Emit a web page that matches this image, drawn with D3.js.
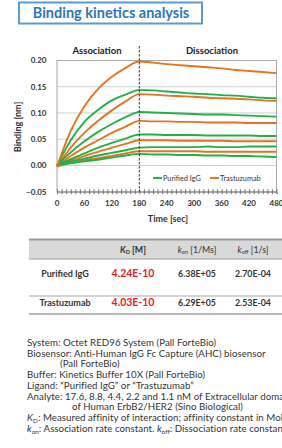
<!doctype html>
<html>
<head>
<meta charset="utf-8" />
<title>Binding kinetics analysis</title>
<script src="https://cdnjs.cloudflare.com/ajax/libs/d3/7.8.5/d3.min.js"></script>
<style>
  body { margin:0; background:#fff; font-family:Lato, "Open Sans", sans-serif; }
  svg { display:block; }
</style>
</head>
<body>
<div id="chart"></div>
<script>
/*time points (sec) the curves were read at*/
var times = [0, 30, 60, 90, 120, 150, 180, 210, 240, 270, 300, 330, 360, 390, 420, 450, 480];

/*Purified IgG, 17.6 / 8.8 / 4.4 / 2.2 / 1.1 nM analyte*/
var igg176 = [0, 0.048, 0.083, 0.106, 0.124, 0.135, 0.144, 0.143, 0.141, 0.139, 0.137, 0.136, 0.134, 0.133, 0.131, 0.129, 0.128];
var igg88  = [0, 0.025, 0.046, 0.064, 0.079, 0.092, 0.102, 0.101, 0.100, 0.099, 0.098, 0.097, 0.097, 0.096, 0.095, 0.094, 0.093];
var igg44  = [0, 0.012, 0.023, 0.034, 0.043, 0.051, 0.059, 0.059, 0.058, 0.058, 0.058, 0.057, 0.057, 0.057, 0.057, 0.056, 0.056];
var igg22  = [0, 0.007, 0.013, 0.019, 0.024, 0.029, 0.034, 0.035, 0.035, 0.035, 0.035, 0.036, 0.035, 0.035, 0.036, 0.036, 0.036];
var igg11  = [0, 0.004, 0.008, 0.011, 0.015, 0.019, 0.022, 0.021, 0.021, 0.020, 0.020, 0.019, 0.019, 0.018, 0.018, 0.017, 0.016];

/*Trastuzumab, same concentrations*/
var tra176 = [-0.002, 0.066, 0.113, 0.146, 0.169, 0.186, 0.198, 0.196, 0.193, 0.191, 0.189, 0.187, 0.185, 0.182, 0.180, 0.178, 0.176];
var tra88  = [-0.002, 0.034, 0.062, 0.085, 0.105, 0.122, 0.136, 0.135, 0.133, 0.132, 0.131, 0.129, 0.128, 0.127, 0.126, 0.124, 0.123];
var tra44  = [-0.002, 0.018, 0.034, 0.048, 0.062, 0.074, 0.085, 0.084, 0.084, 0.083, 0.083, 0.082, 0.082, 0.082, 0.081, 0.081, 0.081];
var tra22  = [-0.002, 0.009, 0.018, 0.026, 0.034, 0.041, 0.048, 0.048, 0.048, 0.047, 0.047, 0.047, 0.047, 0.046, 0.046, 0.046, 0.046];
var tra11  = [-0.002, 0.005, 0.010, 0.014, 0.018, 0.023, 0.027, 0.027, 0.027, 0.027, 0.027, 0.026, 0.026, 0.026, 0.026, 0.026, 0.026];

var xTicks = [0, 60, 120, 180, 240, 300, 360, 420, 480];
var yTicks = [-0.05, 0.00, 0.05, 0.10, 0.15, 0.20];
var seriesNames = ["Purified IgG", "Trastuzumab"];

/*kinetics table*/
var rowNames = ["Purified IgG", "Trastuzumab"];
var kdValues = ["4.24E-10", "4.03E-10"];
var konValues = ["6.38E+05", "6.29E+05"];
var koffValues = ["2.70E-04", "2.53E-04"];

var green = "#22b04b";
var orange = "#e8731f";

var svg = d3.select("#chart").append("svg")
  .attr("width", 282).attr("height", 448);

/*title box*/
svg.append("rect").attr("x", 19).attr("y", 2.5).attr("width", 183).attr("height", 21)
  .attr("fill", "#fff").attr("stroke", "#5b9bd5").attr("stroke-width", 2);
svg.append("text").attr("x", 111).attr("y", 18).attr("text-anchor", "middle")
  .attr("font-size", 14.5).attr("font-weight", "bold").attr("fill", "#2e75b6")
  .text("Binding kinetics analysis");

/*plot area*/
var x = d3.scaleLinear().domain([0, 480]).range([57, 276.5]);
var y = d3.scaleLinear().domain([-0.05, 0.20]).range([191.7, 60.5]);

var grid = svg.append("g");
grid.selectAll("line").data(yTicks.filter(function(d) { return d > -0.05 && d < 0.2; }))
  .enter().append("line")
  .attr("x1", x(0)).attr("x2", x(480))
  .attr("y1", function(d) { return y(d); }).attr("y2", function(d) { return y(d); })
  .attr("stroke", "#cfcfcf").attr("stroke-width", 1);

svg.append("rect").attr("x", x(0)).attr("y", y(0.20))
  .attr("width", x(480) - x(0)).attr("height", y(-0.05) - y(0.20))
  .attr("fill", "none").attr("stroke", "#a8a8a8").attr("stroke-width", 1);

/*x axis with small crossing ticks every 10 sec*/
var xAxis = svg.append("g").attr("transform", "translate(0," + y(-0.05) + ")")
  .call(d3.axisBottom(x).tickValues(d3.range(0, 481, 10)).tickSize(2.5).tickFormat(""));
xAxis.select(".domain").attr("stroke", "#888");
xAxis.selectAll(".tick line").attr("stroke", "#777").attr("y1", -2.5);

svg.append("g").selectAll("text").data(xTicks).enter().append("text")
  .attr("x", function(d) { return x(d); }).attr("y", 206)
  .attr("text-anchor", "middle").attr("font-size", 8).attr("font-weight", "bold").attr("fill", "#333")
  .text(function(d) { return d; });

svg.append("g").selectAll("text").data(yTicks).enter().append("text")
  .attr("x", 46.5).attr("y", function(d) { return y(d) + 2.8; })
  .attr("text-anchor", "end").attr("font-size", 8).attr("font-weight", "bold").attr("fill", "#333")
  .text(function(d) { return d3.format(".2f")(d); });

svg.append("text").attr("transform", "translate(21,127) rotate(-90)")
  .attr("text-anchor", "middle").attr("font-size", 9).attr("font-weight", "bold").attr("fill", "#333")
  .text("Binding [nm]");

svg.append("text").attr("x", 168).attr("y", 222).attr("text-anchor", "middle")
  .attr("font-size", 9).attr("font-weight", "bold").attr("fill", "#333").text("Time [sec]");

svg.append("text").attr("x", 97).attr("y", 54).attr("text-anchor", "middle")
  .attr("font-size", 9.5).attr("font-weight", "bold").attr("fill", "#222").text("Association");
svg.append("text").attr("x", 212).attr("y", 54).attr("text-anchor", "middle")
  .attr("font-size", 9.5).attr("font-weight", "bold").attr("fill", "#222").text("Dissociation");

/*curves*/
var curves = [
  {s: 1, v: tra11}, {s: 0, v: igg11}, {s: 1, v: tra22}, {s: 0, v: igg22},
  {s: 1, v: tra44}, {s: 0, v: igg44}, {s: 1, v: tra88}, {s: 0, v: igg88},
  {s: 0, v: igg176}, {s: 1, v: tra176}
];
var line = d3.line()
  .x(function(d, i) { return x(times[i]); })
  .y(function(d) { return y(d); })
  .curve(d3.curveMonotoneX);

svg.append("g").selectAll("path").data(curves).enter().append("path")
  .attr("d", function(d) { return line(d.v); })
  .attr("fill", "none")
  .attr("stroke", function(d) { return d.s ? orange : green; })
  .attr("stroke-width", 1.9);

/*association / dissociation boundary*/
svg.append("line").attr("x1", x(180)).attr("x2", x(180)).attr("y1", 46).attr("y2", y(-0.05))
  .attr("stroke", "#222").attr("stroke-width", 0.9).attr("stroke-dasharray", "2.5,1.5");

/*legend*/
var legend = svg.append("g").selectAll("g").data(seriesNames).enter().append("g")
  .attr("transform", function(d, i) { return "translate(" + [153, 210][i] + ",178)"; });
legend.append("line").attr("x1", 0).attr("x2", 9).attr("y1", 0).attr("y2", 0)
  .attr("stroke", function(d, i) { return i ? orange : green; }).attr("stroke-width", 1.9);
legend.append("text").attr("x", 10).attr("y", 2.5).attr("font-size", 7.3).attr("fill", "#333")
  .text(function(d) { return d; });

/*table*/
var tbl = svg.append("g");
tbl.append("rect").attr("x", 29).attr("y", 239.5).attr("width", 260).attr("height", 19.5).attr("fill", "#d9d9d9");
[[239.5, 2, "#9a9a9a"], [259, 1.2, "#a0a0a0"], [296, 1.2, "#a8a8a8"], [314, 1.5, "#a0a0a0"]].forEach(function(l) {
  tbl.append("line").attr("x1", 29).attr("x2", 290).attr("y1", l[0]).attr("y2", l[0])
    .attr("stroke", l[2]).attr("stroke-width", l[1]);
});

var colX = [65, 133, 197, 253];
var hdr = [["K", "D", " [M]", true], ["k", "on", " [1/Ms]", false], ["k", "off", " [1/s]", false]];
hdr.forEach(function(h, i) {
  var t = tbl.append("text").attr("x", colX[i + 1]).attr("y", 252.5).attr("text-anchor", "middle")
    .attr("font-size", 8.8).attr("fill", "#333").attr("font-weight", h[3] ? "bold" : "normal");
  t.append("tspan").attr("font-style", "italic").text(h[0]);
  t.append("tspan").attr("font-size", 5.5).attr("dy", 1.8).text(h[1]);
  t.append("tspan").attr("dy", -1.8).text(h[2]);
});

var rowY = [276.5, 305.5];
rowNames.forEach(function(n, i) {
  tbl.append("text").attr("x", colX[0]).attr("y", rowY[i]).attr("text-anchor", "middle")
    .attr("font-size", 9).attr("font-weight", "bold").attr("fill", "#333").text(n);
  tbl.append("text").attr("x", colX[1]).attr("y", rowY[i] + 0.5).attr("text-anchor", "middle")
    .attr("font-size", 10.5).attr("font-weight", "bold").attr("fill", "#e8202a").text(kdValues[i]);
  tbl.append("text").attr("x", colX[2]).attr("y", rowY[i]).attr("text-anchor", "middle")
    .attr("font-size", 8.8).attr("font-weight", "bold").attr("fill", "#333").text(konValues[i]);
  tbl.append("text").attr("x", colX[3]).attr("y", rowY[i]).attr("text-anchor", "middle")
    .attr("font-size", 8.8).attr("font-weight", "bold").attr("fill", "#333").text(koffValues[i]);
});

/*methods notes - the reference is cropped at the right edge, so the long lines run off the page*/
var notes = [
  {x: 27, parts: [["System:  Octet RED96 System (Pall ForteBio)"]]},
  {x: 27, parts: [["Biosensor:  Anti-Human IgG Fc Capture (AHC) biosensor"]]},
  {x: 60, parts: [["(Pall ForteBio)"]]},
  {x: 27, parts: [["Buffer:  Kinetics Buffer 10X (Pall ForteBio)"]]},
  {x: 27, parts: [["Ligand:  \u201cPurified IgG\u201d or \u201cTrastuzumab\u201d"]]},
  {x: 27, parts: [["Analyte:  17.6, 8.8, 4.4, 2.2 and 1.1 nM of Extracellular domain"]]},
  {x: 72, parts: [["of Human ErbB2/HER2 (Sino Biological)"]]},
  {x: 27, parts: [["K", "i"], ["D", "s"], [":  Measured affinity of interaction; affinity constant in Molar"]]},
  {x: 27, parts: [["k", "i"], ["on", "s"], [":  Association rate constant.  "], ["k", "i"], ["off", "s"], [":  Dissociation rate constant"]]}
];
var noteG = svg.append("g");
notes.forEach(function(n, i) {
  var t = noteG.append("text").attr("x", n.x).attr("y", 346 + i * 10.7)
    .attr("font-size", 9.7).attr("letter-spacing", 0.05).attr("fill", "#333");
  var sub = false;
  n.parts.forEach(function(p) {
    var ts = t.append("tspan").text(p[0]);
    if (p[1] === "i") ts.attr("font-style", "italic");
    if (p[1] === "s") { ts.attr("font-size", 6.3).attr("dy", 2); sub = true; }
    else if (sub) { ts.attr("dy", -2); sub = false; }
  });
});
</script>
</body>
</html>
